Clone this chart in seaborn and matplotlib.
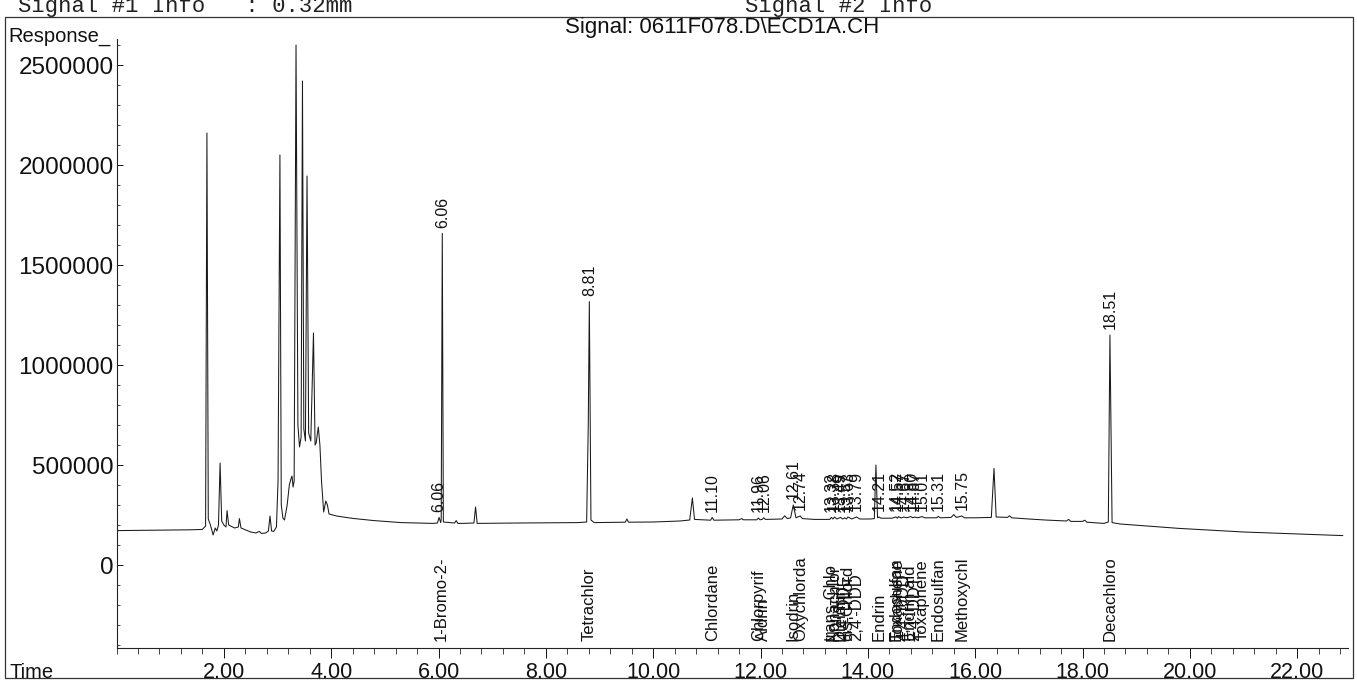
import numpy as np
import pandas as pd
import matplotlib
matplotlib.use("Agg")
import matplotlib.pyplot as plt
from matplotlib.patches import Rectangle
from matplotlib.ticker import MultipleLocator, FixedLocator, FuncFormatter
import seaborn as sns

# ---------------- data ----------------
trace_time = [
    0.00, 0.80, 1.40, 1.60, 1.66, 1.685, 1.70, 1.71, 1.75, 1.80, 1.84, 1.87, 1.90, 1.93, 1.96,
    2.00, 2.04, 2.06, 2.09, 2.20, 2.27, 2.29, 2.32, 2.50, 2.60, 2.66, 2.70, 2.78, 2.83, 2.86,
    2.89, 2.93, 2.98, 3.01, 3.045, 3.07, 3.10, 3.13, 3.18, 3.22, 3.25, 3.27, 3.29, 3.31, 3.345,
    3.38, 3.41, 3.44, 3.465, 3.49, 3.52, 3.55, 3.58, 3.62, 3.67, 3.70, 3.72, 3.76, 3.79, 3.82,
    3.86, 3.90, 3.93, 3.96, 4.10, 4.40, 4.80, 5.30, 5.90, 5.98, 6.01, 6.04, 6.05, 6.07, 6.09,
    6.30, 6.33, 6.36, 6.45, 6.66, 6.69, 6.72, 7.50, 8.60, 8.76, 8.79, 8.81, 8.84, 8.90, 9.48,
    9.51, 9.54, 10.00, 10.50, 10.68, 10.73, 10.77, 11.07, 11.10, 11.13, 11.60, 11.65, 11.68, 11.93, 11.96,
    11.99, 12.03, 12.06, 12.09, 12.40, 12.45, 12.50, 12.56, 12.61, 12.66, 12.74, 12.78, 13.00, 13.29, 13.32,
    13.35, 13.38, 13.42, 13.49, 13.53, 13.57, 13.60, 13.63, 13.70, 13.79, 13.85, 14.05, 14.12, 14.15, 14.18,
    14.21, 14.24, 14.45, 14.52, 14.55, 14.57, 14.62, 14.67, 14.72, 14.80, 14.84, 14.87, 14.93, 15.01, 15.06,
    15.28, 15.31, 15.35, 15.55, 15.60, 15.65, 15.75, 15.80, 16.00, 16.30, 16.35, 16.39, 16.60, 16.64, 16.68,
    17.00, 17.30, 17.70, 17.74, 17.78, 18.00, 18.04, 18.08, 18.40, 18.48, 18.51, 18.55, 18.70, 19.80, 21.00,
    22.00, 22.85,
]
trace_response = [
    172000, 174000, 176000, 178000, 195000, 2160000, 960000, 230000, 200000, 150000, 185000, 170000, 200000, 510000, 220000,
    200000, 190000, 272000, 200000, 185000, 190000, 232000, 185000, 165000, 160000, 168000, 158000, 160000, 170000, 245000,
    170000, 168000, 190000, 420000, 2050000, 300000, 235000, 225000, 300000, 400000, 430000, 445000, 390000, 420000, 2600000,
    700000, 590000, 640000, 2420000, 680000, 620000, 1945000, 660000, 620000, 1160000, 600000, 610000, 690000, 600000, 420000,
    265000, 320000, 300000, 255000, 245000, 233000, 222000, 212000, 208000, 210000, 238000, 212000, 230000, 1658000, 215000,
    210000, 222000, 208000, 208000, 210000, 290000, 208000, 210000, 212000, 215000, 700000, 1317000, 225000, 212000, 214000,
    230000, 214000, 215000, 220000, 225000, 335000, 228000, 224000, 238000, 224000, 226000, 232000, 226000, 226000, 235000,
    226000, 228000, 236000, 228000, 230000, 246000, 232000, 236000, 300000, 236000, 245000, 232000, 228000, 228000, 238000,
    230000, 240000, 230000, 238000, 230000, 236000, 230000, 240000, 230000, 240000, 230000, 230000, 232000, 500000, 236000,
    240000, 234000, 234000, 240000, 234000, 242000, 235000, 240000, 236000, 242000, 236000, 240000, 236000, 242000, 236000,
    236000, 243000, 236000, 238000, 252000, 238000, 245000, 236000, 236000, 238000, 483000, 240000, 238000, 246000, 236000,
    230000, 225000, 220000, 228000, 218000, 218000, 224000, 214000, 208000, 215000, 1150000, 212000, 205000, 183000, 165000,
    155000, 147000,
]

peak_rt = [6.01, 6.07, 8.81, 11.10, 11.96, 12.06, 12.61, 12.74, 13.32, 13.38, 13.49, 13.57,
           13.63, 13.79, 14.21, 14.52, 14.57, 14.67, 14.80, 14.87, 15.01, 15.31, 15.75, 18.51]
peak_rt_text = ["6.06", "6.06", "8.81", "11.10", "11.96", "12.06", "12.61", "12.74", "13.32", "13.38",
                "13.49", "13.57", "13.63", "13.79", "14.21", "14.52", "14.57", "14.67", "14.80",
                "14.87", "15.01", "15.31", "15.75", "18.51"]
peak_height = [238000, 1658000, 1317000, 238000, 235000, 236000, 300000, 245000, 238000, 240000,
               238000, 236000, 240000, 240000, 240000, 240000, 242000, 240000, 242000, 240000,
               242000, 243000, 245000, 1150000]

compound_rt = [6.06, 8.81, 11.10, 11.96, 12.06, 12.61, 12.74, 13.32, 13.38, 13.49, 13.57, 13.63,
               13.79, 14.21, 14.52, 14.57, 14.67, 14.80, 14.87, 15.01, 15.31, 15.75, 18.51]
compound_name = ["1-Bromo-2-", "Tetrachlor", "Chlordane", "Chlorpyrif", "Aldrin", "Isodrin",
                 "Oxychlorda", "trans-Chlo", "Nonachlor", "Dieldrin", "4,4'-DDE", "cis-Chlord",
                 "2,4'-DDD", "Endrin", "Endosulfan", "Toxaphene", "4,4'-DDD", "Endrin ald",
                 "2,4'-DDT", "Toxaphene", "Endosulfan", "Methoxychl", "Decachloro"]

y_major_ticks = [0, 500000, 1000000, 1500000, 2000000, 2500000]
x_major_ticks = [2, 4, 6, 8, 10, 12, 14, 16, 18, 20, 22]

# ---------------- figure ----------------
sns.set_theme(style="white")
plt.rcParams['font.family'] = ['Liberation Sans', 'DejaVu Sans']

W, H = 1357, 681
fig = plt.figure(figsize=(W / 100, H / 100), dpi=100)
fig.patch.set_facecolor("white")

ax_left = 116.5 / W
ax_bottom = 1 - 648 / H
ax_w = (1348 - 116.5) / W
ax_h = (648 - 39) / H
ax = fig.add_axes([ax_left, ax_bottom, ax_w, ax_h])
ax.set_facecolor("white")

df = pd.DataFrame({"time": trace_time, "response": trace_response})
sns.lineplot(data=df, x="time", y="response", ax=ax, color="#1a1a1a",
             linewidth=0.75, sort=False, estimator=None)

ax.set_xlim(0, (1348 - 116.5) / 53.67)
ax.set_ylim(-415000, 2630000)
ax.set_xlabel("")
ax.set_ylabel("")

for s in ["top", "right"]:
    ax.spines[s].set_visible(False)
for s in ["left", "bottom"]:
    ax.spines[s].set_color("#222222")
    ax.spines[s].set_linewidth(0.8)

ax.yaxis.set_major_locator(FixedLocator(y_major_ticks))
ax.yaxis.set_minor_locator(MultipleLocator(100000))
ax.yaxis.set_major_formatter(FuncFormatter(lambda v, p: f"{int(round(v))}"))
ax.xaxis.set_major_locator(FixedLocator(x_major_ticks))
ax.xaxis.set_minor_locator(MultipleLocator(0.4))
ax.xaxis.set_major_formatter(FuncFormatter(lambda v, p: f"{v:.2f}"))

ax.tick_params(axis="y", which="major", direction="in", length=4, width=0.7,
               labelsize=17.5, pad=2, colors="#111111", left=True)
ax.tick_params(axis="y", which="minor", direction="in", length=2, width=0.6, left=True)
ax.tick_params(axis="x", which="major", direction="out", length=7, width=0.7,
               labelsize=15.5, pad=3, colors="#111111", bottom=True)
ax.tick_params(axis="x", which="minor", direction="out", length=4, width=0.6, bottom=True)

# retention-time labels above peaks
for rt, txt, h in zip(peak_rt, peak_rt_text, peak_height):
    ax.annotate(txt, xy=(rt, h), xytext=(0, 4), textcoords="offset points",
                rotation=90, ha="center", va="bottom", fontsize=11.5, color="#111111")

# compound names standing on the time axis
for rt, name in zip(compound_rt, compound_name):
    ax.annotate(name, xy=(rt, 0), xycoords=ax.get_xaxis_transform(), xytext=(0, 5),
                textcoords="offset points", rotation=90, ha="center", va="bottom",
                fontsize=12, color="#111111")

# header and axis captions
fig.text(722 / W, 1 - 28 / H, "Signal: 0611F078.D\\ECD1A.CH",
         ha="center", va="center", fontsize=16, color="#111111")
fig.text(8 / W, 1 - 36 / H, "Response_", ha="left", va="center", fontsize=14.5, color="#111111")
fig.text(10 / W, 1 - 672 / H, "Time", ha="left", va="center", fontsize=14.5, color="#111111")
fig.text(18 / W, 1 - 12 / H, "Signal #1 Info   : 0.32mm", ha="left", va="baseline",
         fontsize=16, family="Liberation Mono", color="#222222")
fig.text(745 / W, 1 - 12 / H, "Signal #2 Info", ha="left", va="baseline",
         fontsize=16, family="Liberation Mono", color="#222222")

# page frame
fig.add_artist(Rectangle((5 / W, 3 / H), (1353 - 5) / W, (678 - 17) / H,
                         transform=fig.transFigure, fill=False, lw=0.9,
                         edgecolor="#333333"))

fig.savefig("out.png", dpi=100, facecolor="white")
